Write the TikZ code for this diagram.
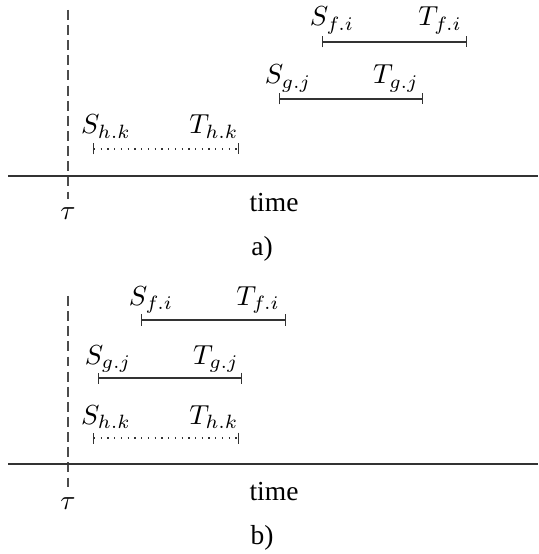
\documentclass[tikz,border=0pt]{standalone}
\usepackage{fontspec}
\setmainfont{Liberation Serif}
\usetikzlibrary{arrows.meta}
\begin{document}
\begin{tikzpicture}[x=0.3636pt,y=-0.3636pt,
  axis/.style={draw=black!80,line width=0.45pt},
  marker/.style={draw=black!70,line width=0.45pt,dash pattern=on 3.6pt off 1.9pt},
  interval/.style={draw=black!80,line width=0.45pt,{Bar[width=4pt]}-{Bar[width=4pt]}},
  dotint/.style={interval,dotted},
  lbl/.style={inner sep=0pt,anchor=base,font=\fontsize{10}{12}\selectfont},
  txt/.style={inner sep=0pt,anchor=base,font=\fontsize{10}{12}\selectfont}]
\useasboundingbox (0,0) rectangle (538,554);
% ---------- part a ----------
\coordinate (aL) at (8,176); \coordinate (aR) at (538,176);
\coordinate (aMt) at (68,10); \coordinate (aMb) at (68,199);
\draw[marker] (aMt) -- (aMb);
\draw[axis] (aL) -- (aR);
\coordinate (afs) at (322,42); \coordinate (aft) at (467,42);
\coordinate (ags) at (279,99); \coordinate (agt) at (423,99);
\coordinate (ahs) at (93,149); \coordinate (aht) at (239,149);
\draw[interval] (afs) -- (aft);
\draw[interval] (ags) -- (agt);
\draw[dotint] (ahs) -- (aht);
\node[lbl] (aSf) at (332,26) {$S_{f.i}$};
\node[lbl] (aTf) at (440,26) {$T_{f.i}$};
\node[lbl] (aSg) at (288,84) {$S_{g.j}$};
\node[lbl] (aTg) at (396,84) {$T_{g.j}$};
\node[lbl] (aSh) at (106,134) {$S_{h.k}$};
\node[lbl] (aTh) at (214,134) {$T_{h.k}$};
\node[lbl] (atau) at (68,220) {$\tau$};
\node[txt] (atime) at (274,212) {time};
\node[txt] (acap) at (262,256) {a)};
% ---------- part b ----------
\coordinate (bL) at (8,464); \coordinate (bR) at (538,464);
\coordinate (bMt) at (68,296); \coordinate (bMb) at (68,490);
\draw[marker] (bMt) -- (bMb);
\draw[axis] (bL) -- (bR);
\coordinate (bfs) at (141,320); \coordinate (bft) at (286,320);
\coordinate (bgs) at (98,378); \coordinate (bgt) at (242,378);
\coordinate (bhs) at (93,438); \coordinate (bht) at (239,438);
\draw[interval] (bfs) -- (bft);
\draw[interval] (bgs) -- (bgt);
\draw[dotint] (bhs) -- (bht);
\node[lbl] (bSf) at (151,305) {$S_{f.i}$};
\node[lbl] (bTf) at (258,305) {$T_{f.i}$};
\node[lbl] (bSg) at (108,364) {$S_{g.j}$};
\node[lbl] (bTg) at (216,364) {$T_{g.j}$};
\node[lbl] (bSh) at (106,424) {$S_{h.k}$};
\node[lbl] (bTh) at (214,424) {$T_{h.k}$};
\node[lbl] (btau) at (68,509) {$\tau$};
\node[txt] (btime) at (274,500) {time};
\node[txt] (bcap) at (262,544) {b)};
\end{tikzpicture}
\end{document}
